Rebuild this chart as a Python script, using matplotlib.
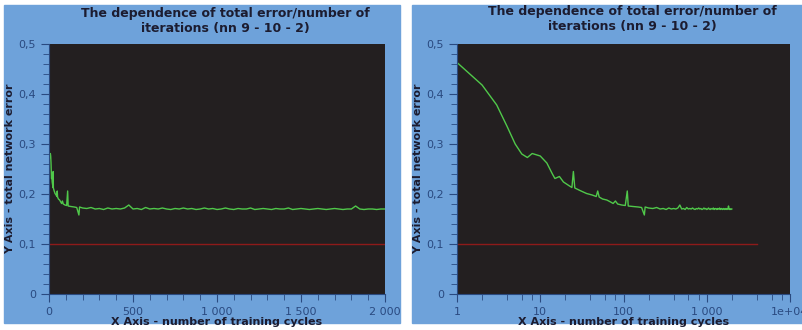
import numpy as np
import matplotlib.pyplot as plt
from matplotlib.patches import Rectangle
from matplotlib.ticker import FuncFormatter, MultipleLocator, LogLocator

# training curve (cycle, total error)
early_cycles = [1, 2, 3, 4, 5, 6, 7, 8, 10, 12, 14, 15, 17, 19, 22, 24, 25, 26,
                30, 36, 42, 47, 49, 51, 56, 63, 70, 75, 80, 85, 95, 105, 111, 114,
                130, 150, 165, 178, 182]
early_error = [0.463, 0.418, 0.378, 0.335, 0.300, 0.280, 0.273, 0.281, 0.276, 0.262,
               0.240, 0.231, 0.235, 0.224, 0.217, 0.213, 0.245, 0.212, 0.207, 0.201,
               0.198, 0.195, 0.206, 0.194, 0.190, 0.188, 0.184, 0.181, 0.186, 0.180,
               0.178, 0.177, 0.206, 0.176, 0.175, 0.174, 0.173, 0.158, 0.174]
plateau_cycles = list(range(200, 2001, 25))
plateau_error = [0.172, 0.171, 0.173, 0.170, 0.171, 0.169, 0.172, 0.170, 0.171, 0.170,
                 0.172, 0.178, 0.170, 0.171, 0.169, 0.173, 0.170, 0.171, 0.170, 0.172,
                 0.170, 0.169, 0.171, 0.170, 0.172, 0.170, 0.171, 0.169, 0.170, 0.172,
                 0.170, 0.171, 0.169, 0.170, 0.172, 0.170, 0.169, 0.171, 0.170, 0.170,
                 0.172, 0.169, 0.170, 0.171, 0.170, 0.169, 0.171, 0.170, 0.170, 0.172,
                 0.169, 0.170, 0.171, 0.170, 0.169, 0.170, 0.171, 0.170, 0.169, 0.170,
                 0.171, 0.170, 0.169, 0.170, 0.170, 0.176, 0.170, 0.169, 0.170, 0.170,
                 0.169, 0.170, 0.170]
cycles = early_cycles + plateau_cycles
error = early_error + plateau_error

# desired error level
target_cycles = [1, 4000]
target_error = [0.1, 0.1]

title = 'The dependence of total error/number of\niterations (nn 9 - 10 - 2)'
xlabel = 'X Axis - number of training cycles'
ylabel = 'Y Axis - total network error'

panel_bg = '#6ea2da'
plot_bg = '#231f20'
navy = '#2a4a80'
dark = '#1c1c30'
green = '#50c84a'
red = '#8e1a1a'


def thousands(v, pos):
    if v >= 10000:
        return '%.0e' % v
    s = '%d' % round(v)
    if len(s) > 3:
        s = s[:-3] + ' ' + s[-3:]
    return s


def ycomma(v, pos):
    if abs(v) < 1e-9:
        return '0'
    return ('%.1f' % v).replace('.', ',')


fig = plt.figure(figsize=(8.02, 3.30), dpi=100)
fig.patch.set_facecolor('white')
# blue panel backgrounds
fig.patches.append(Rectangle((4 / 802, 7 / 330), 396 / 802, 318 / 330,
                             transform=fig.transFigure, color=panel_bg, zorder=-1))
fig.patches.append(Rectangle((412 / 802, 7 / 330), 390 / 802, 318 / 330,
                             transform=fig.transFigure, color=panel_bg, zorder=-1))

ax1 = fig.add_axes([49 / 802, 1 - 294 / 330, 336 / 802, 250 / 330])
ax2 = fig.add_axes([457 / 802, 1 - 294 / 330, 333 / 802, 250 / 330])

for ax in (ax1, ax2):
    ax.set_facecolor(plot_bg)
    ax.plot(target_cycles, target_error, color=red, lw=1.0)
    ax.set_ylim(0, 0.5)
    ax.yaxis.set_major_locator(MultipleLocator(0.1))
    ax.yaxis.set_minor_locator(MultipleLocator(0.02))
    ax.yaxis.set_major_formatter(FuncFormatter(ycomma))
    for s in ('top', 'right'):
        ax.spines[s].set_visible(False)
    for s in ('left', 'bottom'):
        ax.spines[s].set_color(navy)
    ax.tick_params(which='major', length=6, color=navy, labelcolor=navy,
                   labelsize=8, direction='out')
    ax.tick_params(which='minor', length=4, color=navy, direction='out')
    ax.set_xlabel(xlabel, fontsize=8, fontweight='bold', color=dark, labelpad=0)
    ax.set_ylabel(ylabel, fontsize=8, fontweight='bold', color=dark, labelpad=2)

# on the linear axis the first few cycles sit under the y spine
ax1.plot(cycles[5:], error[5:], color=green, lw=1.0)
ax2.plot(cycles, error, color=green, lw=1.0)

ax1.set_xlim(0, 2000)
ax1.xaxis.set_major_locator(MultipleLocator(500))
ax1.xaxis.set_minor_locator(MultipleLocator(100))
ax1.xaxis.set_major_formatter(FuncFormatter(thousands))

ax2.set_xscale('log')
ax2.set_xlim(1, 10000)
ax2.xaxis.set_major_locator(LogLocator(base=10))
ax2.xaxis.set_minor_locator(LogLocator(base=10, subs=[2, 4, 6, 8]))
ax2.xaxis.set_major_formatter(FuncFormatter(thousands))

fig.text(225 / 802, 1 - 7 / 330, title, ha='center', va='top', fontsize=9,
         fontweight='bold', color=dark, linespacing=1.2)
fig.text(632 / 802, 1 - 5 / 330, title, ha='center', va='top', fontsize=9,
         fontweight='bold', color=dark, linespacing=1.2)

fig.savefig('out.png', dpi=100)
